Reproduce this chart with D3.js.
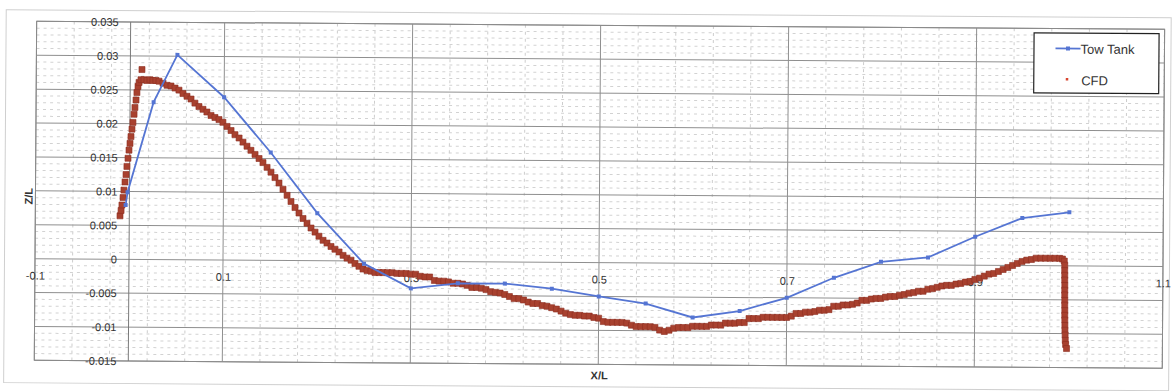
<!DOCTYPE html>
<html>
<head>
<meta charset="utf-8">
<script src="https://cdn.jsdelivr.net/npm/d3@7"></script>
<style>
  html, body { margin: 0; padding: 0; background: #fff; }
  svg { display: block; }
  text { font-family: "Liberation Sans", Arial, sans-serif; fill: #333; }
</style>
</head>
<body>
<svg id="chart" width="1173" height="391"></svg>
<script>
// Tow tank measurements (X/L, Z/L)
const towX = [-0.004, -0.002, 0.025, 0.05, 0.1, 0.15, 0.2, 0.25, 0.3, 0.35, 0.4, 0.45, 0.5,
              0.55, 0.6, 0.65, 0.7, 0.75, 0.8, 0.85, 0.9, 0.95, 1.0];
const towY = [0.0080, 0.0099, 0.0232, 0.0302, 0.0240, 0.0159, 0.0070, -0.0004, -0.0040, -0.0032,
              -0.0032, -0.0039, -0.0050, -0.0060, -0.0080, -0.0070, -0.0050, -0.0020, 0.0004,
              0.0011, 0.0042, 0.0070, 0.0079];

// CFD free-surface profile (X/L, Z/L)
const cfdX = [
  -0.0099, -0.0088, -0.0079, -0.0068, -0.0059, -0.0048, -0.0038, -0.0029, -0.0018, -0.0008,
  0.0002, 0.0012, 0.0022, 0.0032, 0.0043, 0.0052, 0.0063, 0.0072, 0.0083, 0.0094,
  0.0124, 0.0114, 0.0146, 0.0178, 0.0210, 0.0241, 0.0273, 0.0306,
  0.0349, 0.0392, 0.0434, 0.0477, 0.0519, 0.0562, 0.0605, 0.0648, 0.0690, 0.0733,
  0.0776, 0.0818, 0.0862, 0.0904, 0.0947, 0.0989, 0.1033, 0.1076, 0.1118, 0.1162,
  0.1204, 0.1247, 0.1289, 0.1333, 0.1376, 0.1418, 0.1462, 0.1504, 0.1547, 0.1590,
  0.1633, 0.1677, 0.1719, 0.1762, 0.1805, 0.1848, 0.1891, 0.1934, 0.1977, 0.2019,
  0.2063, 0.2105, 0.2148, 0.2190, 0.2234, 0.2277, 0.2319, 0.2362, 0.2404, 0.2447,
  0.2490, 0.2533, 0.2575, 0.2618, 0.2661, 0.2703,
  0.275, 0.28, 0.285, 0.29, 0.295, 0.30, 0.305, 0.31, 0.315, 0.32,
  0.325, 0.33, 0.335, 0.34, 0.345, 0.35, 0.355, 0.36, 0.365, 0.37,
  0.375, 0.38, 0.385, 0.39, 0.395, 0.40, 0.405, 0.41, 0.415, 0.42,
  0.425, 0.43, 0.435, 0.44, 0.445, 0.45, 0.455, 0.46, 0.465, 0.47,
  0.475, 0.48, 0.485, 0.49, 0.495, 0.50, 0.505, 0.51, 0.515, 0.52,
  0.525, 0.53, 0.535, 0.54, 0.545, 0.55, 0.555, 0.56, 0.565, 0.57,
  0.575, 0.58, 0.585, 0.59, 0.595, 0.60, 0.605, 0.61, 0.615, 0.62,
  0.625, 0.63, 0.635, 0.64, 0.645, 0.65, 0.655, 0.66, 0.665, 0.67,
  0.675, 0.68, 0.685, 0.69, 0.695, 0.70, 0.705, 0.71, 0.715, 0.72,
  0.725, 0.73, 0.735, 0.74, 0.745, 0.75, 0.755, 0.76, 0.765, 0.77,
  0.775, 0.78, 0.785, 0.79, 0.795, 0.80, 0.805, 0.81, 0.815, 0.82,
  0.825, 0.83, 0.835, 0.84, 0.845, 0.85, 0.855, 0.86, 0.865, 0.87,
  0.875, 0.88, 0.885, 0.89, 0.895, 0.90, 0.905, 0.91, 0.915, 0.92,
  0.925, 0.93, 0.935, 0.94, 0.945, 0.95, 0.955, 0.96, 0.965, 0.97,
  0.975, 0.98, 0.985, 0.99, 0.993, 0.995,
  0.9955, 0.9955, 0.9956, 0.9956, 0.9957, 0.9957, 0.9957, 0.9958, 0.9958, 0.9959,
  0.9959, 0.9960, 0.9961, 0.9962, 0.9964, 0.9966, 0.997, 0.998
];
const cfdY = [
  0.0064, 0.0072, 0.0080, 0.0091, 0.0102, 0.0114, 0.0125, 0.0137, 0.0149, 0.0161,
  0.0171, 0.0181, 0.0192, 0.0202, 0.0214, 0.0224, 0.0235, 0.0246, 0.0255, 0.0261,
  0.0280, 0.0265, 0.0265, 0.0264, 0.0265, 0.0264, 0.0264, 0.0263,
  0.0260, 0.0257, 0.0256, 0.0253, 0.0250, 0.0245, 0.0241, 0.0237, 0.0231, 0.0226,
  0.0222, 0.0218, 0.0213, 0.0210, 0.0207, 0.0203, 0.0197, 0.0191, 0.0185, 0.0180,
  0.0174, 0.0168, 0.0162, 0.0156, 0.0150, 0.0144, 0.0137, 0.0130, 0.0122, 0.0114,
  0.0105, 0.0096, 0.0087, 0.0078, 0.0070, 0.0062, 0.0055, 0.0048, 0.0042, 0.0036,
  0.0030, 0.0026, 0.0021, 0.0017, 0.0013, 0.0008, 0.0004, 0.0001, -0.0004, -0.0008,
  -0.0012, -0.0014, -0.0015, -0.0017, -0.0017, -0.0017,
  -0.0017, -0.0017, -0.0018, -0.0018, -0.0018, -0.0019, -0.0019, -0.0022, -0.0023, -0.0023,
  -0.0028, -0.0029, -0.0029, -0.0030, -0.0032, -0.0032, -0.0033, -0.0035, -0.0038, -0.0038,
  -0.0039, -0.0041, -0.0044, -0.0045, -0.0046, -0.0048, -0.0051, -0.0054, -0.0054, -0.0056,
  -0.0059, -0.0061, -0.0061, -0.0064, -0.0065, -0.0067, -0.0069, -0.0072, -0.0075, -0.0077,
  -0.0078, -0.0078, -0.0079, -0.0079, -0.0081, -0.0082, -0.0087, -0.0088, -0.0088, -0.0088,
  -0.0088, -0.0089, -0.0092, -0.0094, -0.0094, -0.0094, -0.0094, -0.0095, -0.0099, -0.0101,
  -0.0099, -0.0096, -0.0095, -0.0095, -0.0095, -0.0093, -0.0093, -0.0093, -0.0093, -0.0091,
  -0.0091, -0.0091, -0.0088, -0.0088, -0.0088, -0.0087, -0.0087, -0.0081, -0.0081, -0.0081,
  -0.0079, -0.0079, -0.0079, -0.0079, -0.0079, -0.0079, -0.0077, -0.0073, -0.0073, -0.0071,
  -0.0071, -0.0070, -0.0068, -0.0068, -0.0067, -0.0062, -0.0062, -0.0060, -0.0060, -0.0059,
  -0.0057, -0.0053, -0.0053, -0.0051, -0.0050, -0.0050, -0.0048, -0.0047, -0.0047, -0.0045,
  -0.0044, -0.0042, -0.0041, -0.0039, -0.0039, -0.0036, -0.0035, -0.0033, -0.0031, -0.0030,
  -0.0030, -0.0028, -0.0027, -0.0025, -0.0024, -0.0021, -0.0019, -0.0016, -0.0013, -0.0012,
  -0.0009, -0.0006, -0.0003, 0.0000, 0.0003, 0.0006, 0.0008, 0.0009, 0.0011, 0.0011,
  0.0011, 0.0011, 0.0011, 0.0011, 0.0010, 0.0007,
  0.0001, -0.0007, -0.0014, -0.0021, -0.0029, -0.0036, -0.0043, -0.0051, -0.0058, -0.0066,
  -0.0073, -0.0080, -0.0088, -0.0095, -0.0102, -0.0110, -0.0116, -0.0122
];

// Axis ticks
const xTicks = [-0.1, 0.1, 0.3, 0.5, 0.7, 0.9, 1.1];
const xTickLabels = ["-0.1", "0.1", "0.3", "0.5", "0.7", "0.9", "1.1"];
const yTicks = [0.035, 0.03, 0.025, 0.02, 0.015, 0.01, 0.005, 0, -0.005, -0.01, -0.015];
const yTickLabels = ["0.035", "0.03", "0.025", "0.02", "0.015", "0.01", "0.005", "0", "-0.005", "-0.01", "-0.015"];
const xMinorStep = 0.04;
const yMinorStep = 0.001;

const seriesNames = ["Tow Tank", "CFD"];
const towColor = "#5575d3";
const cfdFill = "#a8412f";
const cfdStroke = "#8e2f22";

const svg = d3.select("#chart");
// the whole sheet sits a little askew on the page
const root = svg.append("g").attr("transform", "rotate(0.4,129,259)");

// chart frame
root.append("rect")
  .attr("x", 4.5).attr("y", 10.5).attr("width", 1165).attr("height", 373)
  .attr("fill", "#fff").attr("stroke", "#cfcfcf").attr("stroke-width", 1);

const x = d3.scaleLinear().domain([-0.1, 1.1]).range([35, 1163]);
const y = d3.scaleLinear().domain([-0.015, 0.035]).range([361, 22]);

// minor gridlines
const xMinor = d3.range(1, 30).filter(i => i % 5 !== 0).map(i => -0.1 + i * xMinorStep);
const yMinor = d3.range(-15, 36).filter(i => i % 5 !== 0).map(i => i * yMinorStep);
const grid = root.append("g");
grid.selectAll(".xm").data(xMinor).join("line")
  .attr("x1", d => x(d)).attr("x2", d => x(d)).attr("y1", y(0.035)).attr("y2", y(-0.015))
  .attr("stroke", "#cdcdcd").attr("stroke-width", 1).attr("stroke-dasharray", "3,4");
grid.selectAll(".ym").data(yMinor).join("line")
  .attr("y1", d => y(d)).attr("y2", d => y(d)).attr("x1", x(-0.1)).attr("x2", x(1.1))
  .attr("stroke", "#d2d2d2").attr("stroke-width", 1).attr("stroke-dasharray", "3,4");

// major gridlines
grid.selectAll(".xM").data(xTicks).join("line")
  .attr("x1", d => x(d)).attr("x2", d => x(d)).attr("y1", y(0.035)).attr("y2", y(-0.015))
  .attr("stroke", "#8f8f8f").attr("stroke-width", 1);
grid.selectAll(".yM").data(yTicks).join("line")
  .attr("y1", d => y(d)).attr("y2", d => y(d)).attr("x1", x(-0.1)).attr("x2", x(1.1))
  .attr("stroke", "#8f8f8f").attr("stroke-width", 1);

// plot area border and the vertical axis at X/L = 0
root.append("rect")
  .attr("x", x(-0.1)).attr("y", y(0.035))
  .attr("width", x(1.1) - x(-0.1)).attr("height", y(-0.015) - y(0.035))
  .attr("fill", "none").attr("stroke", "#8a8a8a").attr("stroke-width", 1);
root.append("line")
  .attr("x1", x(0)).attr("x2", x(0)).attr("y1", y(0.035)).attr("y2", y(-0.015))
  .attr("stroke", "#7a7a7a").attr("stroke-width", 1);

// axes (labels only; lines come from the grid)
const xAxis = d3.axisBottom(x).tickValues(xTicks)
  .tickFormat((d, i) => xTickLabels[i]).tickSize(0).tickPadding(13);
const gx = root.append("g").attr("transform", `translate(0,${y(0)})`).call(xAxis);
gx.select(".domain").remove();
gx.selectAll("text").style("font-size", "11px").attr("fill", "#333");

const yAxis = d3.axisLeft(y).tickValues(yTicks)
  .tickFormat((d, i) => yTickLabels[i]).tickSize(0).tickPadding(12);
const gy = root.append("g").attr("transform", `translate(${x(0)},0)`).call(yAxis);
gy.select(".domain").remove();
gy.selectAll("text").style("font-size", "11px").attr("fill", "#333");

// axis titles
root.append("text").attr("x", 600).attr("y", 376).attr("text-anchor", "middle")
  .style("font-size", "11px").style("font-weight", "bold").text("X/L");
root.append("text").attr("transform", "translate(32,197) rotate(-90)").attr("text-anchor", "middle")
  .style("font-size", "11px").style("font-weight", "bold").text("Z/L");

// CFD markers
const cfd = cfdX.map((v, i) => [v, cfdY[i]]);
root.append("g").selectAll("rect").data(cfd).join("rect")
  .attr("x", d => x(d[0]) - 3).attr("y", d => y(d[1]) - 3)
  .attr("width", 6).attr("height", 6)
  .attr("fill", cfdFill).attr("stroke", cfdStroke).attr("stroke-width", 0.6);

// tow tank line with markers
const tow = towX.map((v, i) => [v, towY[i]]);
root.append("path").datum(tow)
  .attr("d", d3.line().x(d => x(d[0])).y(d => y(d[1])))
  .attr("fill", "none").attr("stroke", towColor).attr("stroke-width", 1.8);
root.append("g").selectAll("rect").data(tow).join("rect")
  .attr("x", d => x(d[0]) - 2).attr("y", d => y(d[1]) - 2)
  .attr("width", 4).attr("height", 4).attr("fill", towColor);

// legend
const lg = root.append("g");
lg.append("rect").attr("x", 1032.5).attr("y", 26.5).attr("width", 125).attr("height", 60)
  .attr("fill", "#fff").attr("stroke", "#222").attr("stroke-width", 1.2);
lg.append("line").attr("x1", 1054).attr("x2", 1079).attr("y1", 42).attr("y2", 42)
  .attr("stroke", towColor).attr("stroke-width", 1.8);
lg.append("rect").attr("x", 1064.5).attr("y", 40).attr("width", 4).attr("height", 4).attr("fill", towColor);
lg.append("text").attr("x", 1079).attr("y", 47).style("font-size", "13px").attr("fill", "#222").text(seriesNames[0]);
lg.append("rect").attr("x", 1064.5).attr("y", 71.5).attr("width", 2.5).attr("height", 2.5).attr("fill", "#d8452f");
lg.append("text").attr("x", 1080).attr("y", 78.5).style("font-size", "13px").attr("fill", "#222").text(seriesNames[1]);
</script>
</body>
</html>
